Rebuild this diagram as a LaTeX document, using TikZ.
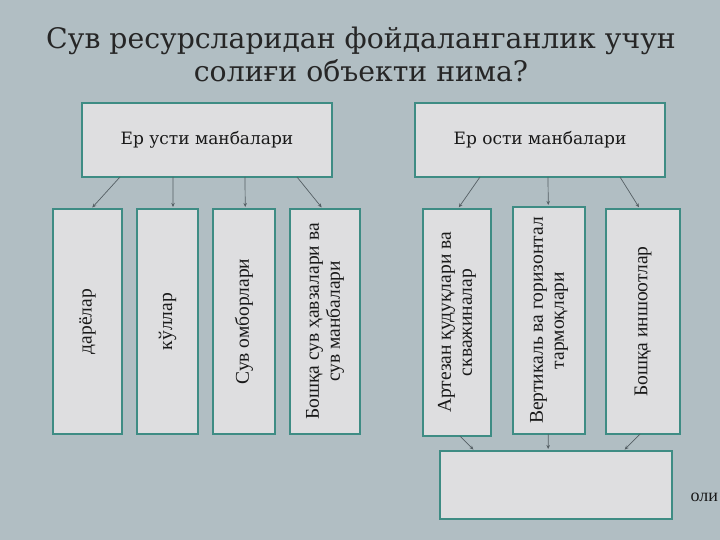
\documentclass[tikz,border=0pt]{standalone}
\usepackage{fontspec}
\setmainfont{Liberation Serif}
\newfontfamily\titlefont{DejaVu Serif}
\usetikzlibrary{calc,arrows.meta}
\definecolor{bgc}{RGB}{177,190,195}
\definecolor{boxfill}{RGB}{222,222,224}
\definecolor{boxline}{RGB}{62,140,132}
\definecolor{arrc}{RGB}{85,95,100}
\tikzset{
  box/.style={draw=boxline, fill=boxfill, line width=1.6pt, inner sep=0pt, outer sep=0pt},
  vtext/.style={rotate=90, align=center, font=\fontsize{19.5}{21}\selectfont, text=black!90},
  htext/.style={font=\titlefont\fontsize{17}{20}\selectfont, text=black!90},
  arr/.style={draw=arrc, line width=0.7pt, -{Stealth[length=4pt,width=3.5pt]}, shorten >=2pt}
}
\begin{document}
\begin{tikzpicture}[x=1pt,y=-1pt]
\useasboundingbox (0,0) rectangle (720,540);
\fill[bgc] (0,0) rectangle (720,540);
\node[font=\titlefont\fontsize{28.3}{33}\selectfont, text=black!85, align=center] (title) at (361,54)
  {Сув ресурсларидан фойдаланганлик учун\\солиғи объекти нима?};
% top boxes
\node[box, minimum width=250, minimum height=74] (top1) at (207,140) {};
\node[htext] (top1t) at (top1) {Ер усти манбалари};
\node[box, minimum width=250, minimum height=74] (top2) at (540,140) {};
\node[htext] (top2t) at (top2) {Ер ости манбалари};
% left small boxes
\node[box, minimum width=69, minimum height=225] (d1) at (87.5,321.5) {};
\node[vtext] (d1t) at (d1) {дарёлар};
\node[box, minimum width=61, minimum height=225] (d2) at (167.5,321.5) {};
\node[vtext] (d2t) at (d2) {кўллар};
\node[box, minimum width=62, minimum height=225] (d3) at (244,321.5) {};
\node[vtext] (d3t) at (d3) {Сув омборлари};
\node[box, minimum width=70, minimum height=225] (d4) at (325,321.5) {};
\node[vtext] (d4t) at (d4) {Бошқа сув ҳавзалари ва\\сув манбалари};
% right small boxes
\node[box, minimum width=68, minimum height=227] (e1) at (457,322.5) {};
\node[vtext] (e1t) at (e1) {Артезан қудуқлари ва\\скважиналар};
\node[box, minimum width=72, minimum height=227] (e2) at (549,320.5) {};
\node[vtext] (e2t) at (e2) {Вертикаль ва горизонтал\\тармоқлари};
\node[box, minimum width=74, minimum height=225] (e3) at (643,321.5) {};
\node[vtext] (e3t) at (e3) {Бошқа иншоотлар};
% bottom box
\node[box, minimum width=232, minimum height=68] (bot) at (556,485) {};
\node[anchor=west, font=\fontsize{18}{20}\selectfont, text=black!90] (olt) at (687,497) {оли};
% connectors
\draw[arr] ($(top1.south west)!0.152!(top1.south east)$) -- ($(d1.north west)!0.55!(d1.north east)$);
\draw[arr] ($(top1.south west)!0.364!(top1.south east)$) -- ($(d2.north west)!0.59!(d2.north east)$);
\draw[arr] ($(top1.south west)!0.652!(top1.south east)$) -- ($(d3.north west)!0.52!(d3.north east)$);
\draw[arr] ($(top1.south west)!0.86!(top1.south east)$) -- ($(d4.north west)!0.47!(d4.north east)$);
\draw[arr] ($(top2.south west)!0.26!(top2.south east)$) -- ($(e1.north west)!0.51!(e1.north east)$);
\draw[arr] ($(top2.south west)!0.532!(top2.south east)$) -- ($(e2.north west)!0.49!(e2.north east)$);
\draw[arr] ($(top2.south west)!0.82!(top2.south east)$) -- ($(e3.north west)!0.46!(e3.north east)$);
\draw[arr] ($(e1.south west)!0.544!(e1.south east)$) -- ($(bot.north west)!0.15!(bot.north east)$);
\draw[arr] ($(e2.south west)!0.49!(e2.south east)$) -- ($(bot.north west)!0.466!(bot.north east)$);
\draw[arr] ($(e3.south west)!0.46!(e3.south east)$) -- ($(bot.north west)!0.79!(bot.north east)$);
\end{tikzpicture}
\end{document}
